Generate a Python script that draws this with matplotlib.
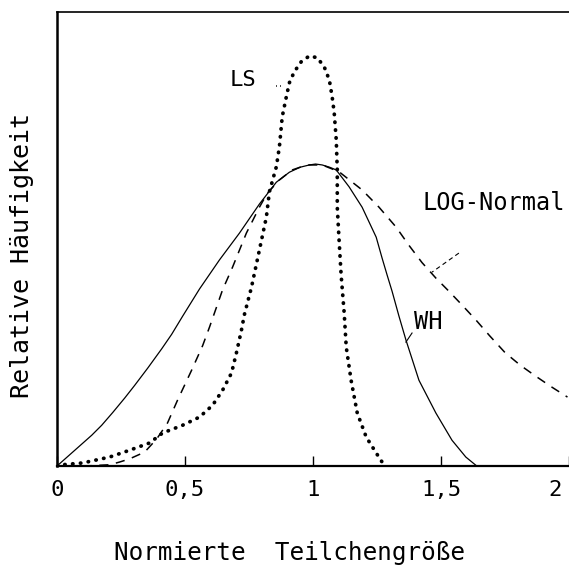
import matplotlib.pyplot as plt

# Traced curves (normierte Teilchengroesse, relative Haeufigkeit)
wh_x = [0.0, 0.070, 0.136, 0.175, 0.218, 0.265, 0.304, 0.355, 0.409, 0.448,
        0.491, 0.557, 0.635, 0.713, 0.791, 0.857, 0.908, 0.950, 0.986, 1.010,
        1.036, 1.065, 1.091, 1.141, 1.192, 1.247, 1.270, 1.290, 1.309, 1.336,
        1.363, 1.414, 1.480, 1.543, 1.597, 1.636]
wh_y = [0.0, 0.035, 0.068, 0.090, 0.118, 0.150, 0.178, 0.216, 0.258, 0.290,
        0.330, 0.390, 0.454, 0.513, 0.577, 0.625, 0.647, 0.658, 0.663, 0.665,
        0.663, 0.658, 0.652, 0.615, 0.570, 0.504, 0.458, 0.420, 0.385, 0.330,
        0.278, 0.189, 0.117, 0.057, 0.020, 0.002]

ls_x = [0.0, 0.101, 0.206, 0.284, 0.362, 0.413, 0.491, 0.557, 0.608, 0.647,
        0.682, 0.701, 0.721, 0.732, 0.760, 0.791, 0.818, 0.830, 0.857, 0.869,
        0.880, 0.896, 0.908, 0.927, 0.954, 0.986, 1.017, 1.044, 1.064, 1.075,
        1.083, 1.091, 1.095, 1.095, 1.102, 1.110, 1.122, 1.130, 1.149, 1.173,
        1.208, 1.247, 1.278]
ls_y = [0.002, 0.007, 0.020, 0.035, 0.051, 0.073, 0.090, 0.108, 0.134, 0.167,
        0.205, 0.249, 0.300, 0.333, 0.394, 0.476, 0.548, 0.604, 0.659, 0.703,
        0.769, 0.813, 0.844, 0.868, 0.890, 0.903, 0.899, 0.879, 0.850, 0.813,
        0.778, 0.718, 0.652, 0.570, 0.498, 0.421, 0.337, 0.262, 0.189, 0.117,
        0.064, 0.029, 0.002]

logn_x = [0.10, 0.206, 0.245, 0.284, 0.343, 0.390, 0.432, 0.471, 0.526, 0.569,
          0.596, 0.647, 0.686, 0.740, 0.791, 0.822, 0.869, 0.919, 0.960, 0.986,
          1.036, 1.102, 1.192, 1.258, 1.325, 1.375, 1.426, 1.480, 1.531, 1.580,
          1.636, 1.690, 1.750, 1.810, 1.870, 1.930, 1.994]
logn_y = [0.0, 0.003, 0.009, 0.016, 0.031, 0.060, 0.095, 0.145, 0.211, 0.265,
          0.306, 0.388, 0.438, 0.513, 0.570, 0.601, 0.630, 0.652, 0.660, 0.663,
          0.663, 0.648, 0.608, 0.570, 0.526, 0.486, 0.448, 0.414, 0.385, 0.356,
          0.322, 0.287, 0.250, 0.222, 0.198, 0.175, 0.152]

xticks = [0, 0.5, 1, 1.5, 2]
xtick_labels = ['0', '0,5', '1', '1,5', '2']

plt.rcParams['font.family'] = 'DejaVu Sans Mono'

fig = plt.figure(figsize=(5.69, 5.65), dpi=100)
ax = fig.add_axes([0.100, 0.175, 0.900, 0.804])

ax.plot(wh_x, wh_y, color='black', lw=0.9)
ax.plot(ls_x, ls_y, color='black', lw=2.7, linestyle=(0, (0.1, 2.0)),
        dash_capstyle='round')
ax.plot(logn_x, logn_y, color='black', lw=1.1, linestyle=(0, (6, 5)))

# labels with short leader lines
ax.text(0.725, 0.850, 'LS', fontsize=16, ha='center', va='center')
ax.plot([0.857, 0.880], [0.836, 0.836], color='black', lw=1.2,
        linestyle=(0, (0.5, 2)))
ax.text(1.426, 0.579, 'LOG-Normal', fontsize=17, ha='left', va='center')
ax.plot([1.570, 1.465], [0.469, 0.427], color='black', lw=0.8,
        linestyle=(0, (4, 3)))
ax.text(1.395, 0.317, 'WH', fontsize=17, ha='left', va='center')
ax.plot([1.387, 1.363], [0.293, 0.273], color='black', lw=0.8)

ax.set_xlim(0, 2.0)
ax.set_ylim(0, 1)
ax.set_yticks([])
ax.set_xticks(xticks)
ax.set_xticklabels(xtick_labels[:-1] + [''], fontsize=16)
ax.tick_params(axis='x', direction='in', length=7, width=1, pad=10)
# last label sits inside the right edge
ax.annotate(xtick_labels[-1], xy=(xticks[-1], 0),
            xycoords=('data', 'axes fraction'), xytext=(-5, -10),
            textcoords='offset points', ha='right', va='top', fontsize=16)

ax.spines['right'].set_visible(False)
ax.spines['left'].set_linewidth(1.8)
ax.spines['bottom'].set_linewidth(1.6)
ax.spines['top'].set_linewidth(1.2)

fig.text(289 / 569, 1 - 560 / 565, 'Normierte  Teilchengröße', fontsize=17.5,
         ha='center', va='baseline')
fig.text(22 / 569, 1 - 256 / 565, 'Relative Häufigkeit', fontsize=18,
         ha='center', va='center', rotation=90)

fig.savefig('out.png', dpi=100)
